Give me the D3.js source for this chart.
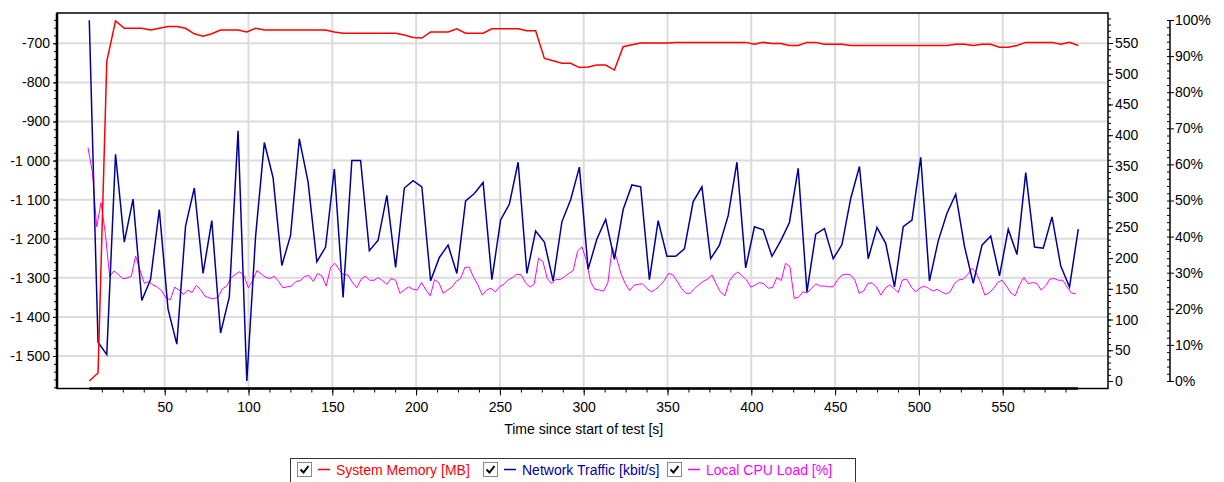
<!DOCTYPE html>
<html>
<head>
<meta charset="utf-8">
<script src="https://cdn.jsdelivr.net/npm/d3@7"></script>
<style>
  body { margin: 0; background: #fff; }
  text { font-family: "Liberation Sans", Arial, sans-serif; font-size: 14px; fill: #000; }
</style>
</head>
<body>
<svg id="chart" width="1224" height="482"></svg>
<script>
// sampling of the logged series (seconds since start of test)
const sampleStart = 5, sampleStep = 5.222;
const cpuStart = 4.24, cpuStep = 2.585;

// System Memory [MB]
const memoryMB = [0, 13, 520, 586, 574, 574, 574, 571, 574, 577, 577, 574, 565, 561, 565, 571, 571, 571, 568, 574,
  571, 571, 571, 571, 571, 571, 571, 571, 568, 566, 566, 566, 566, 566, 566, 566, 563, 559, 558, 568,
  568, 568, 573, 566, 566, 566, 573, 573, 573, 573, 570, 570, 525, 521, 517, 517, 510, 511, 514, 514,
  506, 544, 547, 550, 550, 550, 550, 551, 551, 551, 551, 551, 551, 551, 551, 551, 548, 551, 549, 549,
  546, 546, 551, 551, 548, 548, 548, 546, 546, 546, 546, 546, 546, 546, 546, 546, 546, 546, 546, 548,
  548, 546, 548, 548, 543, 543, 546, 551, 551, 551, 551, 548, 551, 546];

// Network Traffic [kbit/s]
const trafficKbit = [587, 63, 43, 369, 226, 296, 131, 165, 279, 117, 60, 252, 314, 175, 261, 78, 137, 407, 0, 235,
  388, 331, 188, 237, 394, 324, 194, 218, 345, 136, 359, 359, 212, 229, 302, 185, 314, 326, 316, 163,
  201, 221, 175, 293, 305, 323, 165, 262, 288, 356, 175, 244, 226, 163, 259, 295, 348, 182, 231, 263,
  198, 279, 319, 316, 165, 261, 203, 203, 215, 292, 316, 199, 221, 269, 356, 184, 251, 246, 203, 228,
  258, 346, 145, 239, 248, 199, 222, 297, 349, 199, 250, 224, 153, 251, 262, 364, 163, 228, 273, 304,
  219, 159, 221, 236, 171, 247, 206, 339, 218, 216, 267, 187, 153, 247];

// Local CPU Load [%]
const cpuLoad = [64.6, 58, 42.7, 49.4, 40.9, 28.9, 30.5, 29.5, 28.4, 28.5, 29, 34.6, 30.7, 27.1, 27.5, 26.6, 26, 25, 23, 22.5,
  26, 25.2, 24, 25.2, 24.5, 26.5, 25.3, 23.5, 23, 22.8, 23.2, 25.5, 26.3, 28.5, 29.5, 30.3, 29.2,
  25.8, 27.8, 30.6, 29.6, 28.7, 28.4, 29, 27.6, 25.8, 26.1, 26.3, 27.6, 27.8, 29, 29.2, 27.6, 29.8, 29.1, 26.3,
  31.5, 32.6, 30.8, 29.4, 29.4, 27.4, 25.8, 28.1, 29.1, 27.9, 27.9, 28.6, 27.8, 26.8, 28.4, 27.9, 24.3, 25.2, 26.1,
  25.4, 25.2, 27.3, 25.2, 23.6, 28.1, 27.2, 24.3, 25.2, 26, 27.6, 28.4, 31.5, 31.5, 28.7, 26.6, 23.8, 25.2, 25.7,
  24.7, 26.1, 26.8, 28, 28.7, 29.6, 29.4, 27.2, 26, 26.9, 34, 33.1, 28.4, 27, 28.1, 28.1, 28.9, 29.8, 30.6,
  36, 37.2, 33.5, 27.5, 25.4, 25.2, 24.9, 27.2, 37, 34, 29.8, 27, 25, 26.5, 26.8, 26.9, 25.7, 24.7, 25.4,
  26.4, 27.8, 29.8, 29.4, 27.6, 25.6, 24.3, 24.3, 25.6, 26.7, 27.6, 28.2, 29.4, 26.9, 24.6, 23.6, 27.6, 29.3, 30.2,
  29.1, 28, 26, 26.6, 27.3, 26.9, 25.7, 25.9, 28.7, 27.8, 32.6, 31.7, 22.9, 23.2, 24.7, 24.4, 25.7, 26.9, 26.3,
  26.3, 26.1, 26.1, 28, 29.3, 29.6, 29.4, 28, 24.3, 24.9, 27, 27.2, 26, 23.8, 25.7, 26.6, 25.7, 24.5, 28,
  28.2, 26.1, 24.7, 25.7, 26.3, 25.7, 24.9, 25.4, 24.7, 24.1, 24.7, 27, 28, 28.2, 29.4, 31.2, 30, 27.3, 23.8, 24.4,
  25.6, 27.3, 27.9, 26.3, 24.4, 23.6, 26.6, 28.7, 26.9, 27.3, 27, 25.2, 26.3, 28.2, 28.4, 27.9, 27.9, 26, 24.4, 24.1];

// tick labels
const xTicks = [50, 100, 150, 200, 250, 300, 350, 400, 450, 500, 550];
const leftTicks = [-700, -800, -900, -1000, -1100, -1200, -1300, -1400, -1500];
const mbTicks = [0, 50, 100, 150, 200, 250, 300, 350, 400, 450, 500, 550];
const pctTicks = [0, 10, 20, 30, 40, 50, 60, 70, 80, 90, 100];

const legendItems = [
  { label: "System Memory [MB]", color: "#ff0000" },
  { label: "Network Traffic [kbit/s]", color: "#000099" },
  { label: "Local CPU Load [%]", color: "#ff00ff" }
];

const plot = { left: 57, right: 1108, top: 13, bottom: 388.5 };

const svg = d3.select("#chart");

// scales
const xScale = d3.scaleLinear().domain([50, 550]).range([164.7, 1002.7]);
const yLeft = d3.scaleLinear().domain([-1500, -700]).range([356, 43.3]);
const yMB = d3.scaleLinear().domain([0, 550]).range([381, 43]);
const yPct = d3.scaleLinear().domain([0, 100]).range([381, 20]);

const fmt = d3.formatLocale({ decimal: ".", thousands: " ", grouping: [3], currency: ["", ""], minus: "-" }).format(",d");

// grid
const grid = svg.append("g").attr("stroke", "#dcdcdc").attr("stroke-width", 2);
grid.selectAll(".h").data(leftTicks).enter().append("line")
  .attr("x1", plot.left).attr("x2", plot.right)
  .attr("y1", d => yLeft(d)).attr("y2", d => yLeft(d));
grid.selectAll(".v").data(xTicks).enter().append("line")
  .attr("x1", d => xScale(d)).attr("x2", d => xScale(d))
  .attr("y1", plot.top).attr("y2", plot.bottom);

// frame
svg.append("rect")
  .attr("x", plot.left).attr("y", plot.top)
  .attr("width", plot.right - plot.left).attr("height", plot.bottom - plot.top)
  .attr("fill", "none").attr("stroke", "#000").attr("stroke-width", 1.5);

// series
svg.append("clipPath").attr("id", "clip").append("rect")
  .attr("x", plot.left).attr("y", plot.top)
  .attr("width", plot.right - plot.left).attr("height", plot.bottom - plot.top);

const lineMB = d3.line().x((d, i) => xScale(sampleStart + i * sampleStep)).y(d => yMB(d));
const lineCpu = d3.line().x((d, i) => xScale(cpuStart + i * cpuStep)).y(d => yPct(d));

const series = svg.append("g").attr("clip-path", "url(#clip)").attr("fill", "none");
series.append("path").datum(cpuLoad).attr("d", lineCpu)
  .attr("stroke", "#ff00ff").attr("stroke-width", 1);
series.append("path").datum(trafficKbit).attr("d", lineMB)
  .attr("stroke", "#000099").attr("stroke-width", 1.5);
series.append("path").datum(memoryMB).attr("d", lineMB)
  .attr("stroke", "#ff0000").attr("stroke-width", 1.5);

// left axis
const leftMinor = d3.range(-1580, -639, 20);
svg.append("g").attr("transform", `translate(${plot.left},0)`)
  .call(d3.axisLeft(yLeft).tickValues(leftMinor).tickSize(3).tickFormat(""))
  .call(g => g.select(".domain").remove());
svg.append("g").attr("transform", `translate(${plot.left},0)`)
  .call(d3.axisLeft(yLeft).tickValues(leftTicks).tickSize(4).tickPadding(3).tickFormat(fmt))
  .call(g => g.select(".domain").remove())
  .call(g => g.selectAll("text").style("font-size", "14px"));
svg.append("line").attr("x1", plot.left).attr("x2", plot.left)
  .attr("y1", plot.top).attr("y2", plot.bottom).attr("stroke", "#000").attr("stroke-width", 2.5);

// bottom axis
const xMinor = d3.range(12.5, 595, 12.5);
svg.append("g").attr("transform", `translate(0,${plot.bottom})`)
  .call(d3.axisBottom(xScale).tickValues(xMinor).tickSize(4).tickFormat(""))
  .call(g => g.select(".domain").remove());
svg.append("g").attr("transform", `translate(0,${plot.bottom})`)
  .call(d3.axisBottom(xScale).tickValues(xTicks).tickSize(7).tickPadding(7))
  .call(g => g.select(".domain").remove())
  .call(g => g.selectAll("text").style("font-size", "14px"));
svg.append("line").attr("x1", xScale(sampleStart)).attr("x2", xScale(595))
  .attr("y1", plot.bottom).attr("y2", plot.bottom).attr("stroke", "#000").attr("stroke-width", 2.5);
svg.append("text").attr("x", xScale(300)).attr("y", 434).attr("text-anchor", "middle")
  .text("Time since start of test [s]");

// right axis (MB / kbit/s)
svg.append("g").attr("transform", `translate(${plot.right},0)`)
  .call(d3.axisRight(yMB).tickValues(d3.range(0, 591, 10)).tickSize(3).tickFormat(""))
  .call(g => g.select(".domain").remove());
svg.append("g").attr("transform", `translate(${plot.right},0)`)
  .call(d3.axisRight(yMB).tickValues(mbTicks).tickSize(5).tickPadding(2))
  .call(g => g.select(".domain").remove())
  .call(g => g.selectAll("text").style("font-size", "14px"));

// percent axis
const pctX = 1170;
svg.append("g").attr("transform", `translate(${pctX},0)`)
  .call(d3.axisLeft(yPct).tickValues(d3.range(0, 101, 2)).tickSize(3).tickFormat(""))
  .call(g => g.select(".domain").remove());
svg.append("g").attr("transform", `translate(${pctX},0)`)
  .call(d3.axisRight(yPct).tickValues(pctTicks).tickSize(4).tickPadding(1).tickFormat(d => d + "%"))
  .call(g => g.select(".domain").remove())
  .call(g => g.selectAll("text").style("font-size", "14px"));
svg.append("line").attr("x1", pctX).attr("x2", pctX)
  .attr("y1", yPct(100)).attr("y2", yPct(0)).attr("stroke", "#000").attr("stroke-width", 1.5);

// legend
const legend = svg.append("g");
legend.append("rect").attr("x", 290.5).attr("y", 458.5).attr("width", 565).attr("height", 30)
  .attr("fill", "#fff").attr("stroke", "#333").attr("stroke-width", 1);
const itemX = [297, 483, 667];
legendItems.forEach((item, i) => {
  const g = legend.append("g").attr("transform", `translate(${itemX[i]},462)`);
  g.append("rect").attr("x", 0.5).attr("y", 0.5).attr("width", 14).attr("height", 14)
    .attr("fill", "#fff").attr("stroke", "#8a8a8a");
  g.append("path").attr("d", "M3.5,7.5 L6.5,10.5 L11.5,4").attr("fill", "none")
    .attr("stroke", "#000").attr("stroke-width", 2);
  g.append("line").attr("x1", 21).attr("x2", 33).attr("y1", 7.5).attr("y2", 7.5)
    .attr("stroke", item.color).attr("stroke-width", 1.5);
  g.append("text").attr("x", 39).attr("y", 12.5).style("fill", item.color).text(item.label);
});
</script>
</body>
</html>
